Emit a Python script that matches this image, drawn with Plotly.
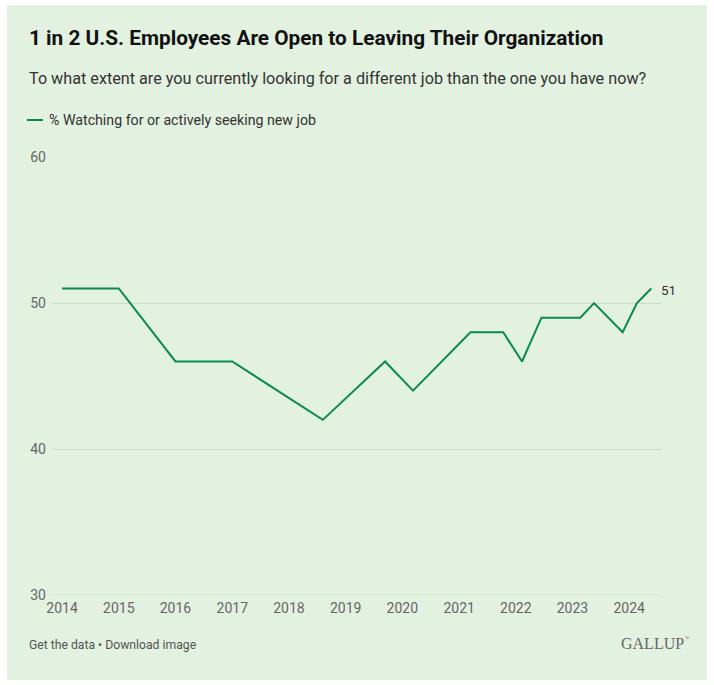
import plotly.graph_objects as go

# ---- data ----
dates = ["2014-01-01", "2015-01-01", "2016-01-01", "2017-01-01", "2018-08-07",
         "2019-09-12", "2020-03-10", "2021-03-15", "2021-10-12", "2022-02-10",
         "2022-06-15", "2023-02-20", "2023-05-20", "2023-11-20", "2024-02-20",
         "2024-05-22"]
values = [51, 51, 46, 46, 42, 46, 44, 48, 48, 46, 49, 49, 50, 48, 50, 51]
series_name = "% Watching for or actively seeking new job"
year_ticks = [f"{y}-01-01" for y in range(2014, 2025)]
year_labels = [str(y) for y in range(2014, 2025)]
y_ticks = [30, 40, 50, 60]

title = "1 in 2 U.S. Employees Are Open to Leaving Their Organization"
subtitle = "To what extent are you currently looking for a different job than the one you have now?"
footer = "Get the data • Download image"

# ---- layout geometry (pixels) ----
W, H = 714, 685
L, R, T, B = 52, 661, 157, 595
PW, PH = R - L, B - T


def px_x(p):
    return (p - L) / PW


def px_y(p):
    return (B - p) / PH


GREEN = "#0b8a4b"
BG = "#e3f1e0"
FONT = "Roboto"

fig = go.Figure()
fig.add_trace(go.Scatter(
    x=dates, y=values, mode="lines", name=series_name,
    line=dict(color=GREEN, width=2), showlegend=False,
    hovertemplate="%{y}<extra></extra>",
))

fig.update_layout(
    width=W, height=H,
    margin=dict(l=L, r=W - R, t=T, b=H - B, pad=0),
    paper_bgcolor="white",
    plot_bgcolor="rgba(0,0,0,0)",
    font=dict(family=FONT, color="#666666", size=14),
    xaxis=dict(
        range=["2013-10-28", "2024-07-24"],
        tickvals=year_ticks, ticktext=year_labels,
        showgrid=False, zeroline=False, showline=False,
        ticks="", ticklabelstandoff=3,
        tickfont=dict(size=14, color="#666666"),
    ),
    yaxis=dict(
        range=[30, 60.01], tickvals=y_ticks,
        showgrid=True, gridcolor="#cddbc9", gridwidth=1,
        zeroline=False, showline=False, ticks="",
        ticklabelstandoff=5,
        tickfont=dict(size=14, color="#666666"),
    ),
    shapes=[
        dict(type="rect", xref="paper", yref="paper",
             x0=px_x(7), x1=px_x(707), y0=px_y(680), y1=px_y(5),
             fillcolor=BG, line=dict(width=0), layer="below"),
        dict(type="line", xref="paper", yref="y",
             x0=0, x1=1, y0=30, y1=30,
             line=dict(color="#cddbc9", width=1), layer="below"),
        dict(type="line", xref="paper", yref="paper",
             x0=px_x(27), x1=px_x(43), y0=px_y(120), y1=px_y(120),
             line=dict(color=GREEN, width=2)),
    ],
    annotations=[
        dict(text=f"<b>{title}</b>", xref="paper", yref="paper",
             x=px_x(27), y=px_y(38), xanchor="left", yanchor="middle",
             showarrow=False, font=dict(size=20.8, color="#111111", family=FONT)),
        dict(text=subtitle, xref="paper", yref="paper",
             x=px_x(27), y=px_y(78), xanchor="left", yanchor="middle",
             showarrow=False, font=dict(size=16.2, color="#333333", family=FONT)),
        dict(text=series_name, xref="paper", yref="paper",
             x=px_x(47), y=px_y(120), xanchor="left", yanchor="middle",
             showarrow=False, font=dict(size=14.2, color="#333333", family=FONT)),
        dict(text=str(values[-1]), x=dates[-1], y=values[-1],
             xanchor="left", yanchor="middle", xshift=8, yshift=-1,
             showarrow=False, font=dict(size=13.5, color="#333333", family=FONT)),
        dict(text=footer, xref="paper", yref="paper",
             x=px_x(27), y=px_y(645), xanchor="left", yanchor="middle",
             showarrow=False, font=dict(size=12.2, color="#555555", family=FONT)),
        dict(text="GALLUP", xref="paper", yref="paper",
             x=px_x(686), y=px_y(643), xanchor="right", yanchor="middle",
             showarrow=False,
             font=dict(size=16, color="#666666", family="Liberation Serif")),
        dict(text="®", xref="paper", yref="paper",
             x=px_x(683), y=px_y(638), xanchor="left", yanchor="middle",
             showarrow=False,
             font=dict(size=6, color="#666666", family="Liberation Serif")),
    ],
)

fig.write_html("out.html")
